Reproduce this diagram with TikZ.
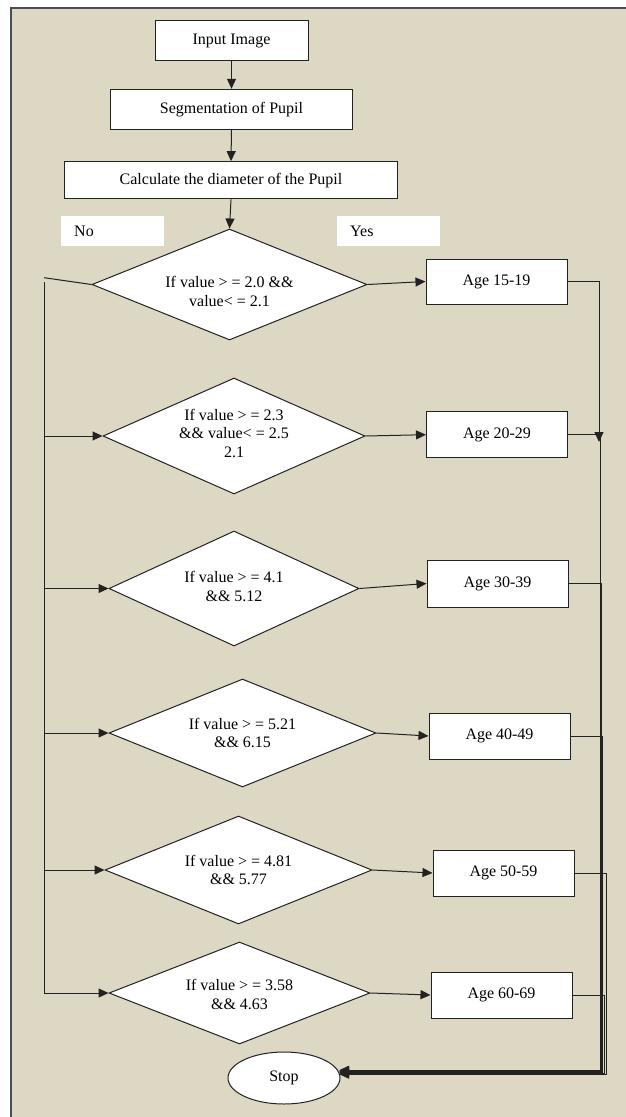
\documentclass[tikz,border=0pt]{standalone}
\usepackage{fontspec}
\setmainfont{Liberation Serif}
\usetikzlibrary{shapes.geometric,arrows.meta}
\definecolor{bg}{HTML}{DCD8C3}
\definecolor{ln}{HTML}{222222}
\definecolor{fr}{HTML}{4D4D4D}
\begin{document}
\begin{tikzpicture}[x=1pt,y=-1pt,
  font=\fontsize{16}{18.5}\selectfont,
  box/.style={draw=ln, fill=white, line width=1pt, inner sep=0pt},
  agebox/.style={box, minimum width=141pt, minimum height=46pt},
  dia/.style={draw=ln, fill=white, diamond, line width=1pt, inner sep=0pt},
  dtxt/.style={align=center, inner sep=0pt},
  lab/.style={fill=white, minimum height=29.7pt, text width=77pt, inner xsep=13pt, inner ysep=0pt, align=left, anchor=north west},
  arr/.style={draw=ln, line width=1pt, -{Triangle[length=10pt,width=9pt]}},
  wire/.style={draw=ln, line width=1pt},
]
\useasboundingbox (0,0) rectangle (626,1117);
\fill[white] (0,0) rectangle (626,1117);
\fill[bg] (11,8) rectangle (626,1117);
\draw[fr, line width=2pt] (11,1117) -- (11,8) -- (626,8);

\node[box, minimum width=153pt, minimum height=40pt] (in) at (231.5,40.7) {Input Image};
\node[box, minimum width=242pt, minimum height=40pt] (seg) at (231.5,109.3) {Segmentation of Pupil};
\node[box, minimum width=333pt, minimum height=37.3pt] (calc) at (231,180.3) {Calculate the diameter of the Pupil};
\node[lab] (no) at (61,216) {No};
\node[lab] (yes) at (337,216) {Yes};

\node[dia, minimum width=275pt, minimum height=111pt] (d1) at (229.5,284.5) {};
\node[dtxt] (t1) at (229.5,291.5) {If value > = 2.0 \&\&\\value< = 2.1};
\node[dia, minimum width=262pt, minimum height=116pt] (d2) at (234,436) {};
\node[dtxt] (t2) at (234,433) {If value > = 2.3\\\&\& value< = 2.5\\2.1};
\node[dia, minimum width=250pt, minimum height=115pt] (d3) at (234,588.5) {};
\node[dtxt] (t3) at (234,586.7) {If value > = 4.1\\\&\& 5.12};
\node[dia, minimum width=267pt, minimum height=108pt] (d4) at (242.5,733) {};
\node[dtxt] (t4) at (242.5,733) {If value > = 5.21\\\&\& 6.15};
\node[dia, minimum width=267pt, minimum height=108pt] (d5) at (238.5,870) {};
\node[dtxt] (t5) at (238.5,870) {If value > = 4.81\\\&\& 5.77};
\node[dia, minimum width=261pt, minimum height=102pt] (d6) at (239.5,993) {};
\node[dtxt] (t6) at (239.5,994.5) {If value > = 3.58\\\&\& 4.63};

\node[agebox, minimum height=45pt] (a1) at (496.5,281.5) {Age 15-19};
\node[agebox] (a2) at (497,434.7) {Age 20-29};
\node[agebox, minimum height=47pt] (a3) at (497.5,583.5) {Age 30-39};
\node[agebox] (a4) at (499.5,736) {Age 40-49};
\node[agebox] (a5) at (503.5,873) {Age 50-59};
\node[agebox] (a6) at (501.5,995) {Age 60-69};

\node[draw=ln, fill=white, ellipse, minimum width=112pt, minimum height=52pt, inner sep=0pt, line width=1pt] (stop) at (284,1078) {Stop};

% main flow
\draw[arr] (in.south) -- (seg.north);
\draw[arr] (seg.south) -- (calc.north);
\draw[arr] (calc.south) -- (d1.north);

% yes branches
\draw[arr] (d1.east) -- (a1.west);
\draw[arr] (d2.east) -- (a2.west);
\draw[arr] (d3.east) -- (a3.west);
\draw[arr] (d4.east) -- (a4.west);
\draw[arr] (d5.east) -- (a5.west);
\draw[arr] (d6.east) -- (a6.west);

% no trunk
\coordinate (L0) at (44,277.7);
\coordinate (Ltop) at (44,282.3);
\draw[wire] (d1.west) -- (L0);
\draw[arr] (Ltop) |- (d6.west);
\draw[arr] (Ltop |- d2.west) -- (d2.west);
\draw[arr] (Ltop |- d3.west) -- (d3.west);
\draw[arr] (Ltop |- d4.west) -- (d4.west);
\draw[arr] (Ltop |- d5.west) -- (d5.west);

% right collector
\coordinate (R1) at (599,442);
\draw[arr] (a1.east) -- (a1.east -| R1) -- (R1);
\draw[arr] (a2.east) -- ++(32,0) |- ([yshift=2pt]stop.6);
\draw[arr] (a3.east) -- ++(32.5,0) |- ([yshift=1pt]stop.6);
\draw[arr] (a4.east) -- ++(32,0) |- (stop.6);
\draw[arr] (a5.east) -- ++(31.5,0) |- ([yshift=-2pt]stop.6);
\draw[arr] (a6.east) -- ++(32,0) |- ([yshift=-1pt]stop.6);
\end{tikzpicture}
\end{document}
